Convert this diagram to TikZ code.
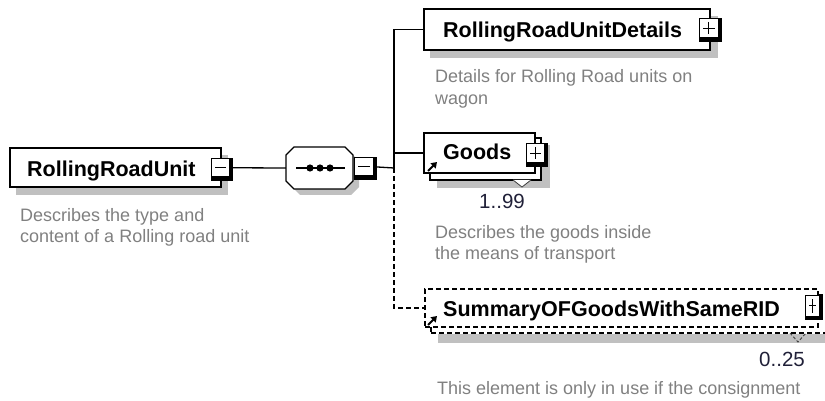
\documentclass[tikz,border=0pt]{standalone}
\usepackage{fontspec}
\setmainfont{Liberation Sans}
\usetikzlibrary{arrows.meta,fit}
\definecolor{descgray}{HTML}{808080}
\definecolor{shadowgray}{HTML}{C0C0C0}
\definecolor{multcol}{HTML}{202038}
\newcommand\signsq[6]{%
  \fill[black] (#2,#3) rectangle (#4,#5);
  \node[sqn,fit={(#2+0.5,#3+0.5) (#4-4,#5-4)}] (#1) {};
  \draw[line width=1.2pt] ([xshift=4pt]#1.west) -- ([xshift=-4pt]#1.east);
  \ifx#6+\draw[line width=1.2pt] ([yshift=-4pt]#1.north) -- ([yshift=4pt]#1.south);\fi
}
\begin{document}
\begin{tikzpicture}[x=1pt,y=-1pt,
  bx/.style={draw=black,fill=white,line width=1.3pt,inner sep=0pt},
  dbx/.style={bx,dash pattern=on 5pt off 3pt},
  shd/.style={fill=shadowgray,draw=none},
  sqn/.style={draw=black,fill=white,line width=1pt,inner sep=0pt},
  ttl/.style={font=\fontsize{21.5}{25}\selectfont\bfseries,inner sep=0pt,anchor=base west},
  dsc/.style={text=descgray,font=\fontsize{18}{21.5}\selectfont,align=left,inner sep=0pt,anchor=base west},
  mult/.style={text=multcol,font=\fontsize{20.5}{24}\selectfont,inner sep=0pt},
  wire/.style={line width=1.3pt},
  dwire/.style={line width=1.3pt,dash pattern=on 5pt off 3pt},
  refarrow/.style={line width=2pt,-{Triangle[length=5.5pt,width=7pt]}},
]
\useasboundingbox (0,0) rectangle (825,401);
\clip (0,0) rectangle (825,401);

% ---- RollingRoadUnit
\fill[shd] (16,155) rectangle (228,195);
\node[bx,minimum width=211pt,minimum height=39pt] (rru) at (115.5,167.5) {};
\node[ttl] (rrut) at (27,176) {RollingRoadUnit};
\signsq{rrum}{211}{158}{233}{181}{-}
\node[dsc] (rrud) at (20,242.5) {Describes the type and\\content of a Rolling road unit};

% ---- sequence compositor
\fill[shd,shift={(6,6)}] (286,155)--(294,147)--(345,147)--(353,155)--(353,181)--(345,189)--(294,189)--(286,181)--cycle;
\draw[wire,fill=white] (286,155)--(294,147)--(345,147)--(353,155)--(353,181)--(345,189)--(294,189)--(286,181)--cycle;
\node[minimum width=67pt,minimum height=42pt,inner sep=0pt] (seq) at (319.5,168) {};
\draw[wire] (296,168) -- (345,168);
\foreach \xx in {310,320,330} \fill (\xx,168) circle[radius=3.6pt];
\signsq{seqm}{354}{157}{377}{180}{-}
\draw[wire] (rrum.east) -- (seq.west);

% ---- bus
\coordinate (bus) at (394,168);
\draw[wire] (seqm.east) -- (bus);

% ---- RollingRoadUnitDetails
\fill[shd] (430,16) rectangle (718,58);
\node[bx,minimum width=286pt,minimum height=41pt] (rrudbox) at (567,29.5) {};
\node[ttl] (rrudt) at (443,37.5) {RollingRoadUnitDetails};
\signsq{rrudp}{699}{18}{722}{42}{+}
\node[dsc] (rrudd) at (435,104.5) {Details for Rolling Road units on\\wagon};

% ---- Goods
\fill[shd] (437,145) rectangle (550,188);
\node[bx,minimum width=111pt,minimum height=42pt] (goodsback) at (485.5,159) {};
\draw[draw=black!75,fill=white,line width=0.8pt] (513,180) -- (522,187) -- (531,180);
\node[bx,minimum width=111pt,minimum height=40pt] (goodsbox) at (479.5,153) {};
\node[ttl] (goodst) at (443,160) {Goods};
\signsq{goodsp}{526}{143}{548}{167}{+}
\draw[refarrow] (428,171) -- (437,162);
\node[mult,anchor=base] (goodsm) at (502,208) {1..99};
\node[dsc] (goodsd) at (435,259.5) {Describes the goods inside\\the means of transport};

% ---- SummaryOFGoodsWithSameRID
\fill[shd] (438,334) rectangle (835,343);
\node[dbx,minimum width=401pt,minimum height=38pt] (sumback) at (631.5,314) {};
\draw[draw=black!75,line width=0.9pt,dash pattern=on 3pt off 2pt] (790,333) -- (798,342) -- (806,333);
\node[dbx,minimum width=393pt,minimum height=38pt] (sumbox) at (621.5,308) {};
\node[ttl] (sumt) at (443,316.7) {SummaryOFGoodsWithSameRID};
\signsq{sump}{805}{295}{823}{320}{+}
\draw[refarrow] (428,325) -- (437,316);
\node[mult,anchor=base east] (summ) at (805,366) {0..25};
\node[dsc] (sumd) at (437,394) {This element is only in use if the consignment};

% ---- connectors
\draw[wire] (rrudbox.west) -| (bus);
\draw[wire] (goodsbox.west) -- (goodsbox.west -| bus);
\draw[dwire] (bus) |- (sumbox.west);
\end{tikzpicture}
\end{document}
